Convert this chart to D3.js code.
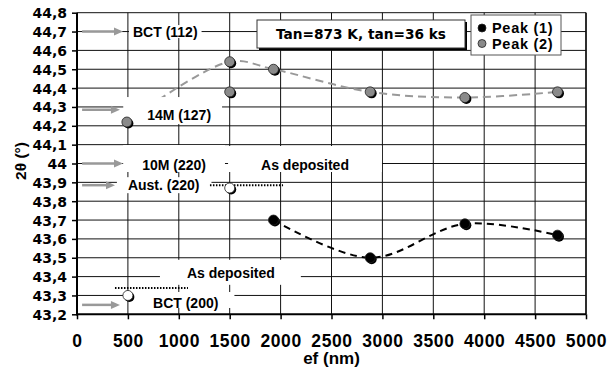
<!DOCTYPE html>
<html><head><meta charset="utf-8">
<script src="https://cdn.jsdelivr.net/npm/d3@7"></script>
<style>
html,body{margin:0;padding:0;background:#fff;}
svg{display:block;}
</style></head><body>
<script>
// Axis ticks
const xTicks = [0, 500, 1000, 1500, 2000, 2500, 3000, 3500, 4000, 4500, 5000];
const xTickLabels = ["0", "500", "1000", "1500", "2000", "2500", "3000", "3500", "4000", "4500", "5000"];
const yTicks = [43.2, 43.3, 43.4, 43.5, 43.6, 43.7, 43.8, 43.9, 44.0, 44.1, 44.2, 44.3, 44.4, 44.5, 44.6, 44.7, 44.8];
const yTickLabels = ["43,2", "43,3", "43,4", "43,5", "43,6", "43,7", "43,8", "43,9", "44", "44,1", "44,2", "44,3", "44,4", "44,5", "44,6", "44,7", "44,8"];

// Peak (1) series
const peak1X = [1930, 2880, 3810, 4720];
const peak1Y = [43.70, 43.50, 43.68, 43.62];
// Peak (2) series
const peak2X = [490, 1500, 1930, 2880, 3810, 4720];
const peak2Y = [44.22, 44.54, 44.50, 44.38, 44.35, 44.38];
// Additional Peak (2) reading without a trend line
const peak2ExtraX = [1500];
const peak2ExtraY = [44.38];
// As-deposited readings (open markers)
const depositedX = [500, 1500];
const depositedY = [43.30, 43.87];

// Reference peak positions (arrows on the left)
const refArrowY = [44.7, 44.285, 44.0, 43.885, 43.25];
const refArrowEndX = [452, 422, 452, 373, 422];

// Dotted as-deposited levels
const dottedY = [43.885, 43.34];
const dottedX0 = [1306, 373];
const dottedX1 = [2024, 1090];

// Annotation labels
const noteText = ["BCT (112)", "14M (127)", "10M (220)", "Aust. (220)", "BCT (200)", "As deposited", "As deposited"];
const noteX = [550, 690, 640, 500, 747, 1808, 1080];
const noteY = [44.7, 44.257, 43.992, 43.885, 43.26, 43.992, 43.42];

const seriesNames = ["Peak (1)", "Peak (2)"];
const titleText = "Tan=873 K, tan=36 ks";

const W = 613, H = 372;
const svg = d3.select("body").append("svg").attr("width", W).attr("height", H);

const x = d3.scaleLinear().domain([0, 5000]).range([77, 586]);
const y = d3.scaleLinear().domain([43.2, 44.8]).range([314.3, 12.7]);

const LAB = "'Liberation Sans', Arial, Helvetica, sans-serif";
const WIDE = "'DejaVu Sans', sans-serif";

// Grid
const grid = svg.append("g");
grid.selectAll("line.h").data(yTicks.slice(1)).join("line")
  .attr("x1", x(0)).attr("x2", x(5000))
  .attr("y1", d => y(d)).attr("y2", d => y(d))
  .attr("stroke", "#111").attr("stroke-width", 1);
grid.selectAll("line.v").data(xTicks.slice(1)).join("line")
  .attr("x1", d => x(d)).attr("x2", d => x(d))
  .attr("y1", y(43.2)).attr("y2", y(44.8))
  .attr("stroke", "#111").attr("stroke-width", 1);
grid.append("line").attr("x1", x(5000)).attr("x2", x(5000))
  .attr("y1", y(43.2)).attr("y2", y(44.8)).attr("stroke", "#111").attr("stroke-width", 1.5);

// Smoothed trend lines
const pts1 = peak1X.map((d, i) => [x(d), y(peak1Y[i])]);
const pts2 = peak2X.map((d, i) => [x(d), y(peak2Y[i])]);
const line = d3.line().curve(d3.curveCatmullRom.alpha(0.5));
svg.append("path").attr("d", line(pts2)).attr("fill", "none")
  .attr("stroke", "#999").attr("stroke-width", 2).attr("stroke-dasharray", "8,5");
svg.append("path").attr("d", line(pts1)).attr("fill", "none")
  .attr("stroke", "#000").attr("stroke-width", 2).attr("stroke-dasharray", "7,5");

// Reference arrows
const arrows = svg.append("g");
refArrowY.forEach((v, i) => {
  const yy = y(v), x0 = x(50), xe = x(refArrowEndX[i]);
  arrows.append("line").attr("x1", x0).attr("x2", xe - 6).attr("y1", yy).attr("y2", yy)
    .attr("stroke", "#999").attr("stroke-width", 2.5);
  arrows.append("path").attr("d", `M${xe},${yy}L${xe - 9},${yy - 4}L${xe - 9},${yy + 4}Z`)
    .attr("fill", "#999");
});

// Label boxes (left, right, top, bottom padding in px around the text)
const boxPad = [[4, 4, 6.5, 6.5], [24, 11, 18, 9], [19, 19, 20, 7], [11, 12, 8, 8],
                [20, 16, 11, 5], [33, 33, 19, 7], [27, 26, 13, 12]];
const notes = svg.append("g");
noteText.forEach((t, i) => {
  const cx = x(noteX[i]), cy = y(noteY[i]);
  const txt = notes.append("text").attr("x", cx).attr("y", cy + 5)
    .attr("font-family", LAB).attr("font-weight", "bold").attr("font-size", 14)
    .attr("fill", "#000").text(t);
  const w = txt.node().getComputedTextLength();
  const p = boxPad[i];
  notes.insert("rect", "text").attr("x", cx - p[0]).attr("y", cy - p[2])
    .attr("width", w + p[0] + p[1]).attr("height", p[2] + p[3]).attr("fill", "#fff");
});

// Dotted as-deposited levels
dottedY.forEach((v, i) => {
  svg.append("line").attr("x1", x(dottedX0[i])).attr("x2", x(dottedX1[i]))
    .attr("y1", y(v)).attr("y2", y(v))
    .attr("stroke", "#000").attr("stroke-width", 2).attr("stroke-dasharray", "1.5,1.5");
});

// Axes
const yAxis = d3.axisLeft(y).tickValues(yTicks).tickFormat((d, i) => yTickLabels[i])
  .tickSize(5).tickPadding(5);
const gy = svg.append("g").attr("transform", `translate(${x(0)},0)`).call(yAxis);
gy.select(".domain").remove();
gy.selectAll(".tick line").attr("stroke", "#000").attr("stroke-width", 1.5);
gy.selectAll(".tick text").attr("font-family", WIDE).attr("font-weight", "bold")
  .attr("font-size", 14).attr("fill", "#000").attr("dy", "0.36em");

const xAxis = d3.axisBottom(x).tickValues(xTicks).tickFormat((d, i) => xTickLabels[i])
  .tickSize(5).tickPadding(15);
const gx = svg.append("g").attr("transform", `translate(0,${y(43.2)})`).call(xAxis);
gx.select(".domain").remove();
gx.selectAll(".tick line").attr("stroke", "#000").attr("stroke-width", 1.5);
gx.selectAll(".tick text").attr("font-family", LAB).attr("font-weight", "bold")
  .attr("font-size", 17.5).attr("letter-spacing", 0.6).attr("fill", "#000");

svg.append("line").attr("x1", x(0)).attr("x2", x(0)).attr("y1", y(43.2) + 1).attr("y2", y(44.8))
  .attr("stroke", "#000").attr("stroke-width", 2);
svg.append("line").attr("x1", x(0) - 1).attr("x2", x(5000)).attr("y1", y(43.2)).attr("y2", y(43.2))
  .attr("stroke", "#000").attr("stroke-width", 2);

// Axis titles
svg.append("text").attr("x", (x(0) + x(5000)) / 2).attr("y", 364).attr("text-anchor", "middle")
  .attr("font-family", LAB).attr("font-weight", "bold").attr("font-size", 17).text("ef (nm)");
svg.append("text").attr("transform", `translate(26,161) rotate(-90)`).attr("text-anchor", "middle")
  .attr("font-family", LAB).attr("font-weight", "bold").attr("font-size", 15.5).text("2θ (°)");

// Markers
function marker(g, px, py, fill, r) {
  g.append("circle").attr("cx", px + 1.5).attr("cy", py + 1.5).attr("r", r).attr("fill", "#000");
  g.append("circle").attr("cx", px).attr("cy", py).attr("r", r).attr("fill", fill)
    .attr("stroke", "#222").attr("stroke-width", 0.8);
}
const mk = svg.append("g");
peak2X.forEach((d, i) => marker(mk, x(d), y(peak2Y[i]), "#8a8a8a", 5));
peak2ExtraX.forEach((d, i) => marker(mk, x(d), y(peak2ExtraY[i]), "#8a8a8a", 5));
peak1X.forEach((d, i) => marker(mk, x(d), y(peak1Y[i]), "#000", 5));
depositedX.forEach((d, i) => marker(mk, x(d), y(depositedY[i]), "#fff", 5));

// Title box
const tb = svg.append("g");
tb.append("rect").attr("x", 259).attr("y", 22).attr("width", 208).attr("height", 28).attr("fill", "#000");
tb.append("rect").attr("x", 257).attr("y", 20).attr("width", 208).attr("height", 28)
  .attr("fill", "#fff").attr("stroke", "#333").attr("stroke-width", 1);
tb.append("text").attr("x", 361).attr("y", 39).attr("text-anchor", "middle")
  .attr("font-family", WIDE).attr("font-weight", "bold").attr("font-size", 13.7).text(titleText);

// Legend
const lg = svg.append("g");
lg.append("rect").attr("x", 471).attr("y", 15).attr("width", 90).attr("height", 40)
  .attr("fill", "#fff").attr("stroke", "#555").attr("stroke-width", 1);
const legFill = ["#000", "#8a8a8a"];
seriesNames.forEach((s, i) => {
  lg.append("circle").attr("cx", 482).attr("cy", 28 + i * 15.5).attr("r", 4)
    .attr("fill", legFill[i]).attr("stroke", "#222").attr("stroke-width", 0.8);
  lg.append("text").attr("x", 492).attr("y", 33.2 + i * 15.5)
    .attr("font-family", LAB).attr("font-weight", "bold").attr("font-size", 14.5)
    .attr("letter-spacing", 0.7).text(s);
});
</script>
</body></html>
